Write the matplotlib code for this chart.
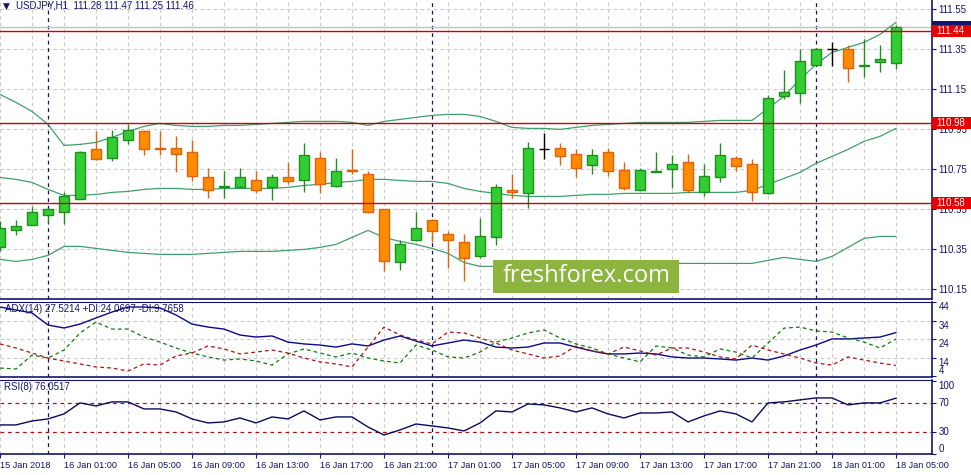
import matplotlib
matplotlib.use("Agg")
import matplotlib.pyplot as plt
from matplotlib.patches import Rectangle
from matplotlib.transforms import blended_transform_factory
import numpy as np

plt.rcParams['font.family'] = ['Liberation Sans', 'DejaVu Sans']

# USDJPY H1, 15 Jan 21:00 .. 18 Jan 05:00
opens = [110.36, 110.445, 110.47, 110.52, 110.535, 110.60, 110.85, 110.805, 110.895, 110.94,
         110.855, 110.855, 110.835, 110.71, 110.66, 110.66, 110.695, 110.66, 110.71, 110.695,
         110.805, 110.665, 110.745, 110.725, 110.55, 110.285, 110.395, 110.495, 110.425, 110.385,
         110.315, 110.41, 110.645, 110.63, 110.85, 110.855, 110.825, 110.77, 110.835, 110.745,
         110.645, 110.738, 110.75, 110.785, 110.635, 110.71, 110.805, 110.775, 110.63, 111.115,
         111.13, 111.27, 111.35, 111.35, 111.268, 111.288, 111.28]
highs = [110.49, 110.495, 110.565, 110.555, 110.635, 110.84, 110.94, 110.945, 110.975, 110.945,
         110.94, 110.915, 110.895, 110.755, 110.74, 110.755, 110.74, 110.725, 110.785, 110.88,
         110.835, 110.805, 110.85, 110.74, 110.55, 110.395, 110.535, 110.50, 110.44, 110.425,
         110.505, 110.675, 110.725, 110.885, 110.93, 110.88, 110.85, 110.85, 110.855, 110.785,
         110.755, 110.835, 110.82, 110.825, 110.775, 110.88, 110.815, 110.80, 111.12, 111.245,
         111.35, 111.355, 111.385, 111.37, 111.40, 111.37, 111.47]
lows = [110.34, 110.42, 110.47, 110.48, 110.475, 110.60, 110.795, 110.79, 110.875, 110.82,
        110.82, 110.735, 110.69, 110.605, 110.605, 110.655, 110.63, 110.595, 110.675, 110.635,
        110.63, 110.66, 110.725, 110.53, 110.24, 110.245, 110.39, 110.385, 110.255, 110.19,
        110.305, 110.37, 110.605, 110.555, 110.80, 110.77, 110.71, 110.725, 110.715, 110.645,
        110.645, 110.735, 110.655, 110.63, 110.615, 110.685, 110.74, 110.59, 110.625, 111.10,
        111.08, 111.27, 111.265, 111.185, 111.21, 111.235, 111.25]
closes = [110.455, 110.465, 110.535, 110.55, 110.615, 110.835, 110.80, 110.91, 110.945, 110.85,
          110.85, 110.825, 110.715, 110.645, 110.665, 110.71, 110.645, 110.71, 110.69, 110.82,
          110.675, 110.74, 110.74, 110.535, 110.29, 110.375, 110.455, 110.44, 110.395, 110.305,
          110.415, 110.66, 110.635, 110.855, 110.85, 110.815, 110.755, 110.82, 110.74, 110.655,
          110.745, 110.743, 110.775, 110.645, 110.715, 110.82, 110.765, 110.635, 111.105, 111.135,
          111.29, 111.35, 111.35, 111.255, 111.273, 111.30, 111.46]

bb_upper = [111.125, 111.085, 111.04, 110.975, 110.87, 110.875, 110.885, 110.91, 110.94, 110.965,
            110.98, 110.97, 110.965, 110.965, 110.97, 110.97, 110.975, 110.98, 110.985, 110.99,
            110.99, 110.99, 110.985, 110.97, 110.99, 111.00, 111.01, 111.02, 111.025, 111.025,
            111.015, 110.99, 110.96, 110.955, 110.955, 110.95, 110.96, 110.97, 110.975, 110.98,
            110.985, 110.985, 110.985, 110.985, 110.99, 110.995, 110.995, 110.995, 111.055, 111.115,
            111.20, 111.275, 111.335, 111.36, 111.385, 111.425, 111.485]
bb_middle = [110.71, 110.70, 110.685, 110.65, 110.62, 110.62, 110.625, 110.635, 110.64, 110.65,
             110.655, 110.655, 110.65, 110.65, 110.655, 110.655, 110.655, 110.655, 110.66, 110.67,
             110.675, 110.685, 110.69, 110.70, 110.70, 110.695, 110.69, 110.69, 110.68, 110.655,
             110.64, 110.63, 110.62, 110.615, 110.615, 110.615, 110.62, 110.625, 110.625, 110.63,
             110.63, 110.63, 110.63, 110.635, 110.635, 110.635, 110.635, 110.645, 110.675, 110.705,
             110.735, 110.78, 110.815, 110.85, 110.89, 110.915, 110.955]
bb_lower = [110.30, 110.29, 110.30, 110.32, 110.365, 110.365, 110.355, 110.345, 110.335, 110.33,
            110.325, 110.325, 110.325, 110.33, 110.335, 110.34, 110.34, 110.34, 110.345, 110.35,
            110.36, 110.375, 110.41, 110.445, 110.41, 110.39, 110.375, 110.355, 110.33, 110.285,
            110.265, 110.265, 110.27, 110.275, 110.275, 110.275, 110.275, 110.275, 110.275, 110.275,
            110.28, 110.28, 110.28, 110.28, 110.28, 110.28, 110.28, 110.28, 110.295, 110.31,
            110.30, 110.29, 110.315, 110.36, 110.405, 110.415, 110.415]

adx = [41.3, 39.7, 38.1, 31.6, 30.0, 32.1, 35.4, 38.6, 41.3, 41.3,
       40.8, 37.0, 32.1, 30.5, 29.4, 26.2, 25.1, 25.7, 22.4, 21.4,
       20.8, 19.7, 21.4, 20.3, 23.5, 25.7, 23.0, 20.3, 21.9, 23.5,
       22.4, 19.7, 19.2, 19.7, 21.9, 21.9, 19.7, 17.6, 16.0, 16.0,
       16.5, 16.0, 14.4, 13.8, 13.8, 13.3, 12.7, 13.8, 12.7, 14.9,
       18.1, 20.8, 24.1, 24.1, 24.6, 25.1, 27.52]
plus_di = [8.4, 7.9, 15.4, 13.8, 18.1, 27.3, 33.2, 29.4, 29.4, 25.1,
           22.4, 19.2, 16.5, 14.4, 12.7, 13.3, 12.2, 10.0, 16.0, 18.7,
           16.5, 14.4, 16.5, 13.8, 12.2, 11.1, 20.8, 18.1, 14.4, 13.8,
           17.0, 22.4, 24.6, 27.3, 28.9, 24.6, 21.4, 19.2, 16.0, 13.8,
           11.7, 20.3, 19.2, 15.4, 14.4, 18.7, 17.0, 13.8, 21.9, 29.9,
           30.5, 28.4, 27.8, 24.6, 22.4, 19.2, 24.07]
minus_di = [21.4, 19.2, 16.5, 13.8, 12.2, 10.6, 9.0, 8.4, 6.8, 10.6,
            10.0, 14.9, 16.5, 20.3, 18.7, 16.0, 17.0, 18.1, 16.5, 13.8,
            11.7, 10.6, 9.0, 19.7, 30.5, 26.2, 23.5, 21.4, 27.8, 27.3,
            24.6, 21.9, 18.1, 16.0, 13.8, 14.9, 20.3, 17.6, 16.0, 19.7,
            17.6, 15.4, 19.2, 19.2, 17.0, 14.4, 13.3, 20.8, 18.1, 16.0,
            13.8, 11.1, 10.0, 14.4, 12.7, 11.1, 9.77]
rsi = [39.6, 39.6, 45.0, 47.8, 54.6, 69.6, 65.5, 71.0, 71.0, 61.4,
       61.4, 57.3, 47.8, 42.3, 43.7, 49.1, 42.3, 50.5, 47.8, 58.7,
       46.4, 50.5, 50.5, 36.8, 25.9, 32.8, 40.9, 38.2, 35.5, 31.4,
       42.3, 58.7, 57.3, 68.2, 66.9, 62.8, 57.3, 62.8, 54.6, 49.1,
       55.9, 55.9, 57.3, 43.7, 51.9, 58.7, 54.6, 43.7, 69.6, 71.0,
       73.7, 76.4, 76.4, 66.9, 69.6, 69.6, 76.05]

levels = [111.44, 110.98, 110.58]
bid = 111.46
day_breaks = [3, 27, 51]
price_ticks = [111.55, 111.35, 111.15, 110.95, 110.75, 110.55, 110.35, 110.15]
adx_ticks = [44, 34, 24, 14, 4]
rsi_ticks = [100, 70, 30, 0]
rsi_levels = [70, 30]
time_ticks = [0, 4, 8, 12, 16, 20, 24, 28, 32, 36, 40, 44, 48, 52, 56]
time_labels = ['15 Jan 2018', '16 Jan 01:00', '16 Jan 05:00', '16 Jan 09:00', '16 Jan 13:00',
               '16 Jan 17:00', '16 Jan 21:00', '17 Jan 01:00', '17 Jan 05:00', '17 Jan 09:00',
               '17 Jan 13:00', '17 Jan 17:00', '17 Jan 21:00', '18 Jan 01:00', '18 Jan 05:00']

NAVY = '#14146e'
GRID = '#c8c8c8'
UP, UP_EDGE = '#32cd32', '#1f8f1f'
DN, DN_EDGE = '#ff8c00', '#e0620a'
BB = '#3f9f6c'
FS = 7

W, H = 971, 475
fig = plt.figure(figsize=(W / 100, H / 100), dpi=100)


def panel(top, bottom, left=0, right=931.5):
    return fig.add_axes([left / W, 1 - bottom / H, (right - left) / W, (bottom - top) / H])


ax = panel(0, 299)
ax_adx = panel(301.5, 377)
ax_rsi = panel(379.5, 454)

x = np.arange(len(closes))
o, h, l, c = map(np.array, (opens, highs, lows, closes))

for a in (ax, ax_adx, ax_rsi):
    a.set_xlim(0, 931.5 / 16)
    a.set_facecolor('white')
    for s in ('left', 'top'):
        a.spines[s].set_visible(False)
    for s in ('right', 'bottom'):
        a.spines[s].set_color(NAVY)
        a.spines[s].set_linewidth(1.2)
    a.yaxis.tick_right()
    a.tick_params(axis='y', colors=NAVY, labelsize=FS, length=3, pad=2, width=0.8)
    a.set_xticks([])
    for i in x[::2]:
        a.axvline(i, color=GRID, lw=0.8, ls=(0, (3, 3)), zorder=0)
    for d in day_breaks:
        a.axvline(d, color=NAVY, lw=0.9, ls=(0, (3, 3)), zorder=1)
ax_adx.spines['top'].set_visible(True)
ax_adx.spines['top'].set_color(NAVY)
ax_rsi.spines['top'].set_visible(True)
ax_rsi.spines['top'].set_color(NAVY)

# main price panel
ax.set_ylim(111.597 - 299 / 200, 111.597)
ax.set_yticks(price_ticks)
ax.set_yticklabels([f'{p:.2f}' for p in price_ticks])
for p in price_ticks:
    ax.axhline(p, color=GRID, lw=0.8, ls=(0, (3, 3)), zorder=0)

ax.plot(x, bb_upper, color=BB, lw=0.9, zorder=2)
ax.plot(x, bb_middle, color=BB, lw=0.9, zorder=2)
ax.plot(x, bb_lower, color=BB, lw=0.9, zorder=2)

up = c > o
dn = c < o
edge = np.where(up, UP_EDGE, np.where(dn, DN_EDGE, 'black'))
face = np.where(up, UP, np.where(dn, DN, 'black'))
ax.vlines(x, l, h, colors=edge, lw=1.0, zorder=3)
ax.bar(x, np.abs(c - o), bottom=np.minimum(o, c), width=0.62, color=face,
       edgecolor=edge, linewidth=1.0, zorder=4)

for lv in levels:
    ax.axhline(lv, color='#cc0000', lw=1.0, zorder=5)
ax.axhline(bid, color='#c0c0c0', lw=1.0, zorder=1)

# price labels on the right axis (they cover the tick labels underneath, as in MT4)
tr = blended_transform_factory(ax.transAxes, ax.transData)
box_w = 39.5 / 931.5
ax.add_patch(Rectangle((1.0, bid - 0.03), box_w, 0.06, transform=tr, clip_on=False,
                       facecolor=NAVY, edgecolor='none', zorder=6))
for lv in levels:
    ax.add_patch(Rectangle((1.0, lv - 0.03), box_w, 0.06, transform=tr, clip_on=False,
                           facecolor='#e60000', edgecolor='none', zorder=7))
    ax.text(1.0 + 5 / 931.5, lv, f'{lv:.2f}', transform=tr, color='white', fontsize=FS,
            va='center', ha='left', zorder=8, clip_on=False)

ax.text(3 / 931.5, 1 - 6 / 299, '\u25bc', transform=ax.transAxes, fontsize=6.5, color=NAVY,
        va='center', ha='left', family='DejaVu Sans')
ax.text(16 / 931.5, 1 - 6 / 299, 'USDJPY,H1  111.28 111.47 111.25 111.46',
        transform=ax.transAxes, fontsize=FS, color=NAVY, va='center', ha='left')

# watermark
fig.patches.append(Rectangle((493 / W, 1 - 293 / H), 186 / W, 33 / H, transform=fig.transFigure,
                             facecolor='#8cb43e', edgecolor='none', zorder=10))
fig.text(587 / W, 1 - 276 / H, 'freshforex.com', color='white', fontsize=17,
         family='Open Sans', ha='center', va='center', zorder=11)

# ADX panel
ax_adx.set_ylim(3.57, 44.27)
ax_adx.set_yticks(adx_ticks)
ax_adx.set_yticklabels([str(t) for t in adx_ticks])
for lab, t in zip(ax_adx.get_yticklabels(), adx_ticks):
    lab.set_va('bottom' if t == 4 else 'top')
for t in adx_ticks[1:4]:
    ax_adx.axhline(t, color=GRID, lw=0.8, ls=(0, (3, 3)), zorder=0)
ax_adx.plot(x, adx, color='#0a0a8c', lw=1.0, zorder=3)
ax_adx.plot(x, plus_di, color='#0a7d0a', lw=0.9, ls=(0, (3, 2.5)), zorder=3)
ax_adx.plot(x, minus_di, color='#b01010', lw=0.9, ls=(0, (3, 2.5)), zorder=3)
ax_adx.text(5 / 931.5, 1 - 8 / 75.5, 'ADX(14) 27.5214 +DI:24.0697 -DI:9.7658',
            transform=ax_adx.transAxes, fontsize=FS, color=NAVY, va='center', ha='left', zorder=6)

# RSI panel
ax_rsi.set_ylim(0, 101.5)
ax_rsi.set_yticks(rsi_ticks)
ax_rsi.set_yticklabels([str(t) for t in rsi_ticks])
for lab, t in zip(ax_rsi.get_yticklabels(), rsi_ticks):
    lab.set_va({100: 'top', 0: 'bottom'}.get(t, 'center'))
for lv in rsi_levels:
    ax_rsi.axhline(lv, color='#b01010', lw=0.9, ls=(0, (3, 3)), zorder=2)
ax_rsi.plot(x, rsi, color='#0a0a5a', lw=1.0, zorder=3)
ax_rsi.text(4 / 931.5, 1 - 8 / 74.5, 'RSI(8) 76.0517', transform=ax_rsi.transAxes,
            fontsize=FS, color=NAVY, va='center', ha='left')

ax_rsi.set_xticks(time_ticks)
ax_rsi.set_xticklabels(time_labels)
ax_rsi.tick_params(axis='x', colors=NAVY, labelsize=6.6, length=3, pad=2, width=0.8)
for lab in ax_rsi.get_xticklabels():
    lab.set_ha('left')

fig.savefig('out.png', dpi=100, facecolor='white')
